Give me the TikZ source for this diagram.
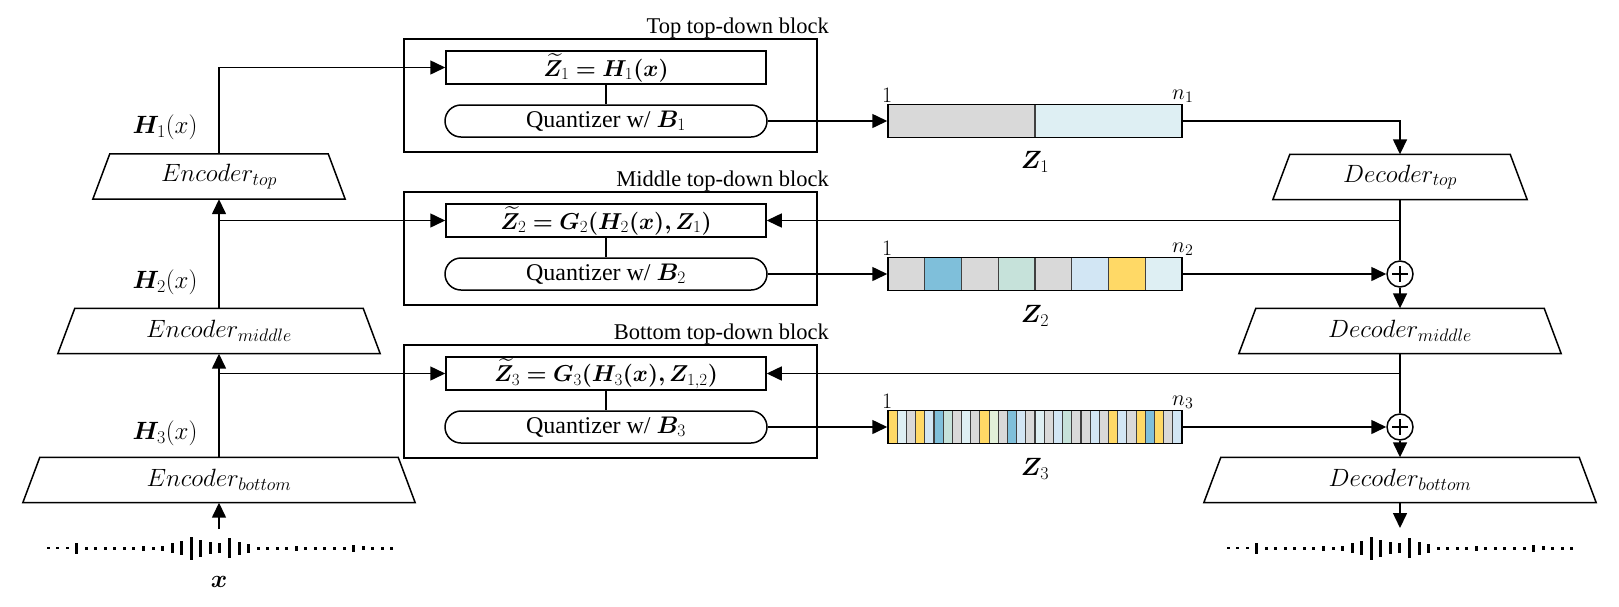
\RequirePackage{fix-cm}
\documentclass[tikz,border=0pt]{standalone}
\usepackage{amsmath}
\usepackage{bm}
\usepackage[no-math]{fontspec}
\setmainfont{Liberation Serif}
\usetikzlibrary{arrows.meta}
\DeclareMathSizes{25}{25}{18}{13}
\DeclareMathSizes{23}{23}{17}{12}
\DeclareMathSizes{22}{22}{16}{11}
\DeclareMathSizes{24}{24}{17.5}{12}
\definecolor{cg}{HTML}{D9D9D9}
\definecolor{cb}{HTML}{7FBFDA}
\definecolor{cgr}{HTML}{C6E2DA}
\definecolor{clb}{HTML}{D2E6F4}
\definecolor{cy}{HTML}{FFD966}
\definecolor{clc}{HTML}{DEEFF3}
\definecolor{clg}{HTML}{E2F0D9}
\newcommand{\bb}[1]{\bm{#1}}
\tikzset{
  ln/.style={line width=1.5pt},
  arr/.style={line width=1.5pt, -{Triangle[length=15pt,width=14pt]}},
  coder/.style={minimum height=45pt, inner sep=0pt, font=\fontsize{25}{30}\selectfont},
  blockbox/.style={draw, line width=1.5pt, minimum width=413pt, minimum height=113pt, inner sep=0pt},
  eqbox/.style={draw, line width=1.5pt, minimum width=320pt, minimum height=33pt, inner sep=0pt, font=\fontsize{23}{28}\selectfont},
  qbox/.style={draw, line width=1.5pt, rounded corners=16pt, minimum width=322pt, minimum height=32pt, inner sep=0pt, font=\fontsize{24}{28}\selectfont},
  ttl/.style={anchor=base east, inner sep=0pt, font=\fontsize{22.5}{26}\selectfont},
  hlab/.style={inner sep=0pt, font=\fontsize{25}{30}\selectfont},
  idx/.style={inner sep=1pt, anchor=south, font=\fontsize{22}{26}\selectfont},
  zbar/.style={draw, line width=1.5pt, minimum width=294pt, minimum height=33pt, inner sep=0pt},
  cell/.style={draw=black!75, line width=1.1pt},
  plus/.style={draw, circle, line width=1.5pt, minimum size=26pt, inner sep=0pt},
}
\begin{document}
\begin{tikzpicture}[x=1pt,y=-1pt]
\useasboundingbox (0,0) rectangle (1619,606);

% ---- blocks ----
\node[blockbox] (blk1) at (610.5,95.5) {};
\node[blockbox] (blk2) at (610.5,248.5) {};
\node[blockbox] (blk3) at (610.5,401.5) {};
\node[ttl] (t1) at (829,33) {Top top-down block};
\node[ttl] (t2) at (829,186) {Middle top-down block};
\node[ttl] (t3) at (829,339) {Bottom top-down block};
\node[eqbox] (eq1) at (606,67.5) {$\widetilde{\bb{Z}}_{1} \bb{=} \bb{H}_{1}\bb{(}\bb{x}\bb{)}$};
\node[eqbox] (eq2) at (606,220.5) {$\widetilde{\bb{Z}}_{2} \bb{=} \bb{G}_{2}\bb{(}\bb{H}_{2}\bb{(}\bb{x}\bb{)}\bb{,} \bb{Z}_{1}\bb{)}$};
\node[eqbox] (eq3) at (606,373.5) {$\widetilde{\bb{Z}}_{3} \bb{=} \bb{G}_{3}\bb{(}\bb{H}_{3}\bb{(}\bb{x}\bb{)}\bb{,} \bb{Z}_{1,2}\bb{)}$};
\node[qbox] (q1) at (606,121) {Quantizer w/ $\bb{B}_1$};
\node[qbox] (q2) at (606,274) {Quantizer w/ $\bb{B}_2$};
\node[qbox] (q3) at (606,427) {Quantizer w/ $\bb{B}_3$};
\foreach \i in {1,2,3} \draw[ln] (eq\i.south) -- (q\i.north);

% ---- encoders / decoders ----
\node[coder, minimum width=218pt] (enct) at (219,176.5) {$Encoder_{top}$};
\node[coder, minimum width=288pt] (encm) at (219,331) {$Encoder_{middle}$};
\node[coder, minimum width=358pt] (encb) at (219,480) {$Encoder_{bottom}$};
\node[coder, minimum width=220pt] (dect) at (1400,177) {$Decoder_{top}$};
\node[coder, minimum width=288pt] (decm) at (1400,331) {$Decoder_{middle}$};
\node[coder, minimum width=358pt] (decb) at (1400,480) {$Decoder_{bottom}$};
\foreach \n in {enct,encm,encb,dect,decm,decb}
  \draw[ln, line join=miter] (\n.north west) -- (\n.north east) -- ([xshift=17pt]\n.south east) -- ([xshift=-17pt]\n.south west) -- cycle;

\node[hlab] (h1) at (165,127) {$\bb{H}_1(x)$};
\node[hlab] (h2) at (165,282) {$\bb{H}_2(x)$};
\node[hlab] (h3) at (165,433) {$\bb{H}_3(x)$};
\node[hlab] (xl) at (219,582) {$\bb{x}$};

% ---- code bars ----
\filldraw[fill=cg, cell] (888,104.5) rectangle (1035,137.5);
\filldraw[fill=clc, cell] (1035,104.5) rectangle (1182,137.5);
\foreach \c [count=\i from 0] in {cg,cb,cg,cgr,cg,clb,cy,clc}
  \filldraw[fill=\c, cell] (888+\i*36.75,257.5) rectangle ++(36.75,33);
\foreach \c [count=\i from 0] in {cy,clc,cg,cy,clb,cb,cgr,cg,clc,cg,cy,clg,cg,cb,clb,cg,clc,cg,clb,cgr,cg,cg,clb,cg,cy,clb,cg,cy,cb,cy,cg,clb}
  \filldraw[fill=\c, cell] (888+\i*9.1875,410.5) rectangle ++(9.1875,33);
\node[zbar] (z1) at (1035,121) {};
\node[zbar] (z2) at (1035,274) {};
\node[zbar] (z3) at (1035,427) {};
\foreach \i in {1,2,3} {
  \node[idx] (one\i) at (z\i.north west) {$1$};
  \node[idx] (n\i) at (z\i.north east) {$n_\i$};
}
\node[hlab] (zl1) at (1035,162) {$\bb{Z}_1$};
\node[hlab] (zl2) at (1035,316) {$\bb{Z}_2$};
\node[hlab] (zl3) at (1035,469) {$\bb{Z}_3$};

\node[plus] (p1) at (1400,274) {};
\node[plus] (p2) at (1400,427) {};
\foreach \p in {p1,p2} {
  \draw[line width=1.2pt] ([xshift=-8pt]\p.center) -- ([xshift=8pt]\p.center);
  \draw[line width=1.2pt] ([yshift=-8pt]\p.center) -- ([yshift=8pt]\p.center);
}

% ---- waveforms ----
\coordinate (wavein) at (219,529);
\coordinate (waveout) at (1400,528);
\foreach \off in {0,1180}
  \foreach \h [count=\i from 0] in {2.5,2.5,2.5,11,3,3,3,3,3,3,5,3,5,10,14,23,17,12,10,20,13,9,3,3,3,3,5,3,3,3,3,3,7,4,3,3,3}
    \fill (\off+48+\i*9.55-1.5,548-\h/2) rectangle ++(3,\h);

% ---- connectors ----
\draw[arr] (wavein) -- (encb.south);
\draw[arr] (encb.north) -- (encm.south);
\draw[arr] (encm.north) -- (enct.south);
\draw[arr] (enct.north) |- (eq1.west);
\draw[arr] (enct.south |- eq2.west) -- (eq2.west);
\draw[arr] (encm.south |- eq3.west) -- (eq3.west);

\draw[arr] (q1.east) -- (z1.west);
\draw[arr] (q2.east) -- (z2.west);
\draw[arr] (q3.east) -- (z3.west);

\draw[arr] (z1.east) -| (dect.north);
\draw[ln] (dect.south) -- (p1.north);
\draw[arr] (dect.south |- eq2.east) -- (eq2.east);
\draw[arr] (z2.east) -- (p1.west);
\draw[arr] (p1.south) -- (decm.north);
\draw[ln] (decm.south) -- (p2.north);
\draw[arr] (decm.south |- eq3.east) -- (eq3.east);
\draw[arr] (z3.east) -- (p2.west);
\draw[arr] (p2.south) -- (decb.north);
\draw[arr] (decb.south) -- (waveout);
\end{tikzpicture}
\end{document}
